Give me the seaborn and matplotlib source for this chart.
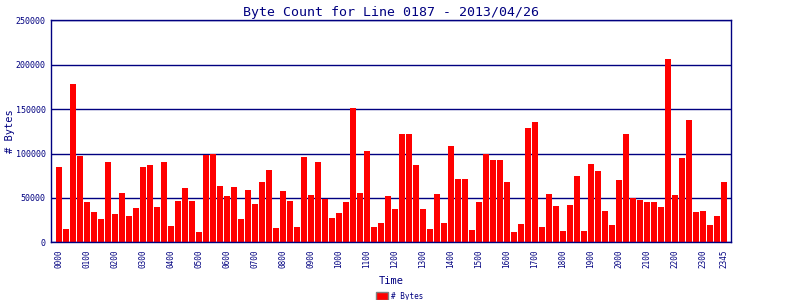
import matplotlib
matplotlib.use("Agg")
import matplotlib.pyplot as plt
from matplotlib.patches import Patch
import seaborn as sns
import pandas as pd

times = [f"{h:02d}{m:02d}" for h in range(24) for m in (0, 15, 30, 45)]
byte_counts = [
    84600, 15000, 177900, 97000, 45300, 34100, 26200, 90300, 31800, 55400, 29600, 38600,
    84600, 86900, 39700, 90300, 18400, 46400, 61000, 46400, 11600, 98100, 100000, 63300,
    52100, 62200, 26200, 58800, 43100, 67800, 81300, 16100, 57700, 46400, 17200, 95900,
    53200, 90300, 48700, 27300, 33000, 45300, 150900, 55400, 102600, 17200, 21700, 52100,
    37500, 121700, 121700, 86900, 37500, 15000, 54300, 21700, 108200, 71200, 71200, 13900,
    45300, 100000, 92500, 92500, 67800, 11600, 20600, 128500, 135200, 17200, 54300, 40800,
    12700, 41900, 74500, 12700, 88000, 80100, 35200, 19500, 70000, 121700, 49800, 47600,
    45300, 45300, 39700, 206000, 53200, 94800, 137500, 34100, 35200, 19500, 29600, 67800,
]
y_ticks = [0, 50000, 100000, 150000, 200000, 250000]
title = "Byte Count for Line 0187 - 2013/04/26"

navy = "#000080"
sns.set_style("white")
plt.rcParams["font.family"] = ["DejaVu Sans Mono"]

df = pd.DataFrame({"Time": times, "Bytes": byte_counts})

fig = plt.figure(figsize=(8, 3), dpi=100)
ax = fig.add_axes([0.0641, 0.1923, 0.9134 - 0.0641, 0.9323 - 0.1923])

for v in y_ticks:
    ax.axhline(v, color=navy, lw=1.0, zorder=0.5)

sns.barplot(data=df, x="Time", y="Bytes", color="#ff0000", saturation=1,
            width=0.86, ax=ax)
for p in ax.patches:
    p.set_zorder(3)
    p.set_linewidth(0)

ax.set_ylim(0, 250000)
ax.set_xlim(-1.1, 95.96)
ax.set_yticks(y_ticks)
ax.set_yticklabels([str(v) for v in y_ticks], fontsize=6, color=navy)
tick_idx = list(range(0, 96, 4)) + [95]
ax.set_xticks(tick_idx)
ax.set_xticklabels([times[i] for i in tick_idx], rotation=90, fontsize=5.5, color=navy)
ax.tick_params(axis="both", length=0)
ax.tick_params(axis="x", pad=5)
ax.tick_params(axis="y", pad=4)

for s in ax.spines.values():
    s.set_color(navy)
    s.set_linewidth(1.0)
    s.set_zorder(4)

ax.set_xlabel("Time", fontsize=7.5, color=navy, labelpad=6)
ax.set_ylabel("")
fig.text(10 / 800, 1 - 131 / 300, "# Bytes", rotation=90, fontsize=7.5,
         color=navy, ha="center", va="center")
ax.set_title(title, fontsize=9.5, color=navy, pad=3)

fig.legend(handles=[Patch(facecolor="#ff0000", edgecolor="gray", label="# Bytes")],
           loc="lower center", bbox_to_anchor=(0.5, -0.025), frameon=False,
           fontsize=5.5, labelcolor=navy, handlelength=1.6, handleheight=1.2,
           handletextpad=0.4)

fig.savefig("out.png", dpi=100, facecolor="white")
